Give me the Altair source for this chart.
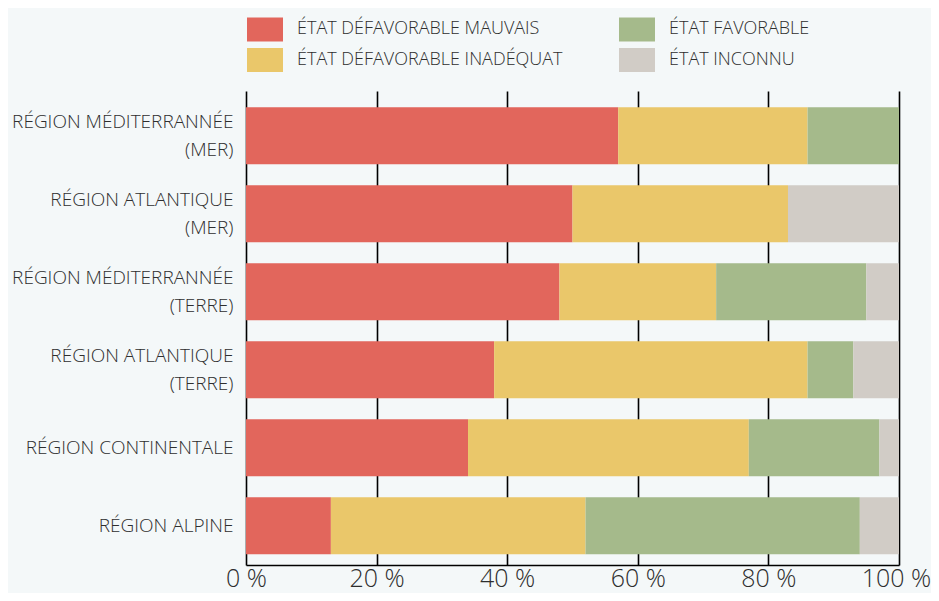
import altair as alt
import pandas as pd

regions = [
    "RÉGION MÉDITERRANNÉE (MER)",
    "RÉGION ATLANTIQUE (MER)",
    "RÉGION MÉDITERRANNÉE (TERRE)",
    "RÉGION ATLANTIQUE (TERRE)",
    "RÉGION CONTINENTALE",
    "RÉGION ALPINE",
]
etats = [
    "ÉTAT DÉFAVORABLE MAUVAIS",
    "ÉTAT DÉFAVORABLE INADÉQUAT",
    "ÉTAT FAVORABLE",
    "ÉTAT INCONNU",
]
mauvais = [57, 50, 48, 38, 34, 13]
inadequat = [29, 33, 24, 48, 43, 39]
favorable = [14, 0, 23, 7, 20, 42]
inconnu = [0, 17, 5, 7, 3, 6]
couleurs = ["#e2665c", "#eac76a", "#a5ba8b", "#d1ccc6"]
ticks = [0, 20, 40, 60, 80, 100]

series = [mauvais, inadequat, favorable, inconnu]
rows = []
for k, (etat, vals) in enumerate(zip(etats, series)):
    for r, v in zip(regions, vals):
        rows.append({"region": r, "etat": etat, "valeur": v, "ordre": k})
df = pd.DataFrame(rows)

FONT = "Open Sans"
TXT = "#2e2e2e"

label_expr = ("indexof(datum.label,' (')>0 ? [substring(datum.label,0,indexof(datum.label,' (')),"
              " substring(datum.label,indexof(datum.label,' (')+1)] : datum.label")

chart = alt.Chart(df).mark_bar().encode(
    y=alt.Y("region:N", sort=regions, title=None,
            scale=alt.Scale(paddingInner=0.27, paddingOuter=0.173, align=0.6),
            axis=alt.Axis(ticks=False, domain=False, grid=False, labelFont=FONT,
                          labelFontSize=19, labelFontWeight=300, labelColor=TXT,
                          labelPadding=13, labelLineHeight=28, labelLimit=300,
                          labelExpr=label_expr,
                          labelOffset={"condition": {"test": "indexof(datum.label,' (')>0", "value": -14},
                                       "value": 0})),
    x=alt.X("valeur:Q", stack="zero", title=None,
            scale=alt.Scale(domain=[0, 100], nice=False),
            axis=alt.Axis(values=ticks, labelExpr="datum.value + ' %'", grid=True,
                          gridColor="#000000", gridWidth=1.6, gridOpacity=1,
                          domain=True, domainColor="#000000", domainWidth=1.5,
                          ticks=False, labelFont=FONT, labelFontSize=25,
                          labelFontWeight=300, labelColor=TXT, labelPadding=21,
                          labelBaseline="alphabetic",
                          labelOffset={"condition": {"test": "datum.value == 100", "value": -3},
                                       "value": 0},
                          labelFlush=False, labelOverlap=False)),
    color=alt.Color("etat:N", scale=alt.Scale(domain=etats, range=couleurs),
                    legend=alt.Legend(title=None, orient="none", legendX=1, legendY=-80,
                                      columns=2, columnPadding=56, rowPadding=-3,
                                      symbolType="M-1,-0.667H1V0.667H-1Z", symbolSize=1296,
                                      symbolStrokeWidth=0, symbolOpacity=1,
                                      labelFont=FONT, labelFontSize=18, labelFontWeight=300,
                                      labelColor=TXT, labelOffset=14, labelLimit=400)),
    order=alt.Order("ordre:Q"),
).properties(
    width=653, height=474,
    autosize=alt.AutoSizeParams(type="none"),
    padding={"left": 238, "top": 83, "right": 32, "bottom": 28},
    background="#f4f8f9",
).configure_view(stroke=None)

chart.save("out.html", embed_options={"renderer": "svg", "actions": False})
